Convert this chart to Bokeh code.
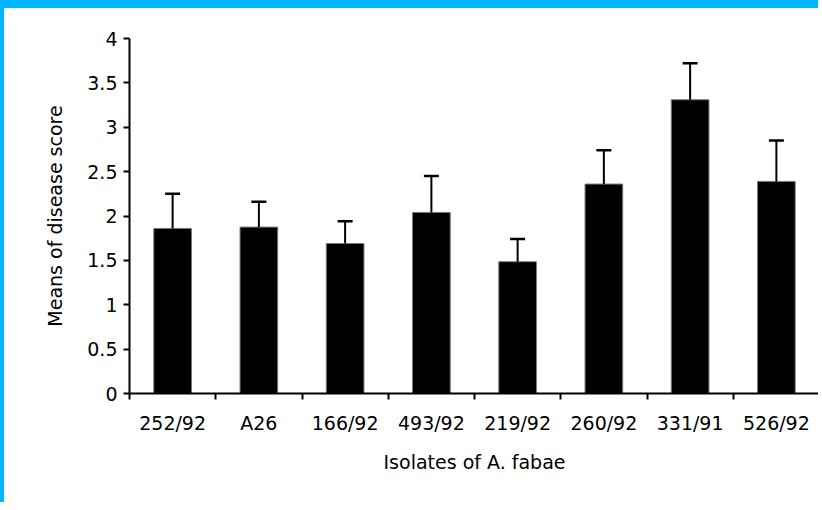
from bokeh.plotting import figure
from bokeh.models import ColumnDataSource, FixedTicker, Whisker, TeeHead, Range1d
from bokeh.embed import file_html
from bokeh.resources import INLINE

categories = ["252/92", "A26", "166/92", "493/92", "219/92", "260/92", "331/91", "526/92"]
means = [1.86, 1.875, 1.69, 2.04, 1.485, 2.36, 3.31, 2.39]
errors = [0.39, 0.285, 0.25, 0.41, 0.255, 0.38, 0.41, 0.46]
y_ticks = [0, 0.5, 1, 1.5, 2, 2.5, 3, 3.5, 4]
y_tick_labels = ["0", "0.5", "1", "1.5", "2", "2.5", "3", "3.5", "4"]
x_title = "Isolates of A. fabae"
y_title = "Means of disease score"

FONT = "DejaVu Sans"
CYAN = "#00b6ff"

xpos = [i + 0.5 for i in range(len(categories))]
src = ColumnDataSource(dict(
    x=xpos,
    mean=means,
    upper=[m + e for m, e in zip(means, errors)],
    cat=categories,
))

p = figure(width=818, height=502,
           x_range=Range1d(0, len(categories)), y_range=Range1d(0, 4),
           output_backend="svg", toolbar_location=None,
           min_border_left=125, min_border_top=30,
           min_border_bottom=117, min_border_right=3,
           styles={"border-top": "8px solid %s" % CYAN,
                   "border-left": "4px solid %s" % CYAN})
p.outline_line_color = None
p.xgrid.visible = False
p.ygrid.visible = False
p.background_fill_color = "white"
p.border_fill_color = "white"

p.vbar(x="x", top="mean", bottom=0, width=0.437, source=src,
       fill_color="black", line_color="#7a7a7a", line_width=1)

w = Whisker(base="x", lower="mean", upper="upper", source=src, dimension="height",
            line_color="black", line_width=2,
            upper_head=TeeHead(size=15, line_width=2.5, line_color="black"),
            lower_head=None, level="overlay")
p.add_layout(w)

xa = p.xaxis[0]
xa.ticker = FixedTicker(ticks=xpos, minor_ticks=list(range(len(categories) + 1)))
xa.major_label_overrides = {x: c for x, c in zip(xpos, categories)}
xa.major_tick_out = 0
xa.major_tick_in = 0
xa.minor_tick_out = 6
xa.minor_tick_in = 0
xa.minor_tick_line_width = 2
xa.minor_tick_line_color = "black"
xa.axis_line_width = 2
xa.axis_line_color = "black"
xa.major_label_standoff = 12
xa.axis_label = x_title
xa.axis_label_standoff = 14

ya = p.yaxis[0]
ya.ticker = FixedTicker(ticks=y_ticks, minor_ticks=[])
ya.major_label_overrides = {t: l for t, l in zip(y_ticks, y_tick_labels)}
ya.major_tick_out = 6
ya.major_tick_in = 0
ya.major_tick_line_width = 2
ya.major_tick_line_color = "black"
ya.minor_tick_out = 0
ya.minor_tick_in = 0
ya.axis_line_width = 2
ya.axis_line_color = "black"
ya.major_label_standoff = 6
ya.axis_label = y_title
ya.axis_label_standoff = 18

for ax in (xa, ya):
    ax.major_label_text_font = FONT
    ax.major_label_text_font_size = "19px"
    ax.major_label_text_color = "black"
    ax.axis_label_text_font = FONT
    ax.axis_label_text_font_size = "19px"
    ax.axis_label_text_font_style = "normal"
    ax.axis_label_text_color = "black"

open("out.html", "w").write(file_html(p, INLINE))
